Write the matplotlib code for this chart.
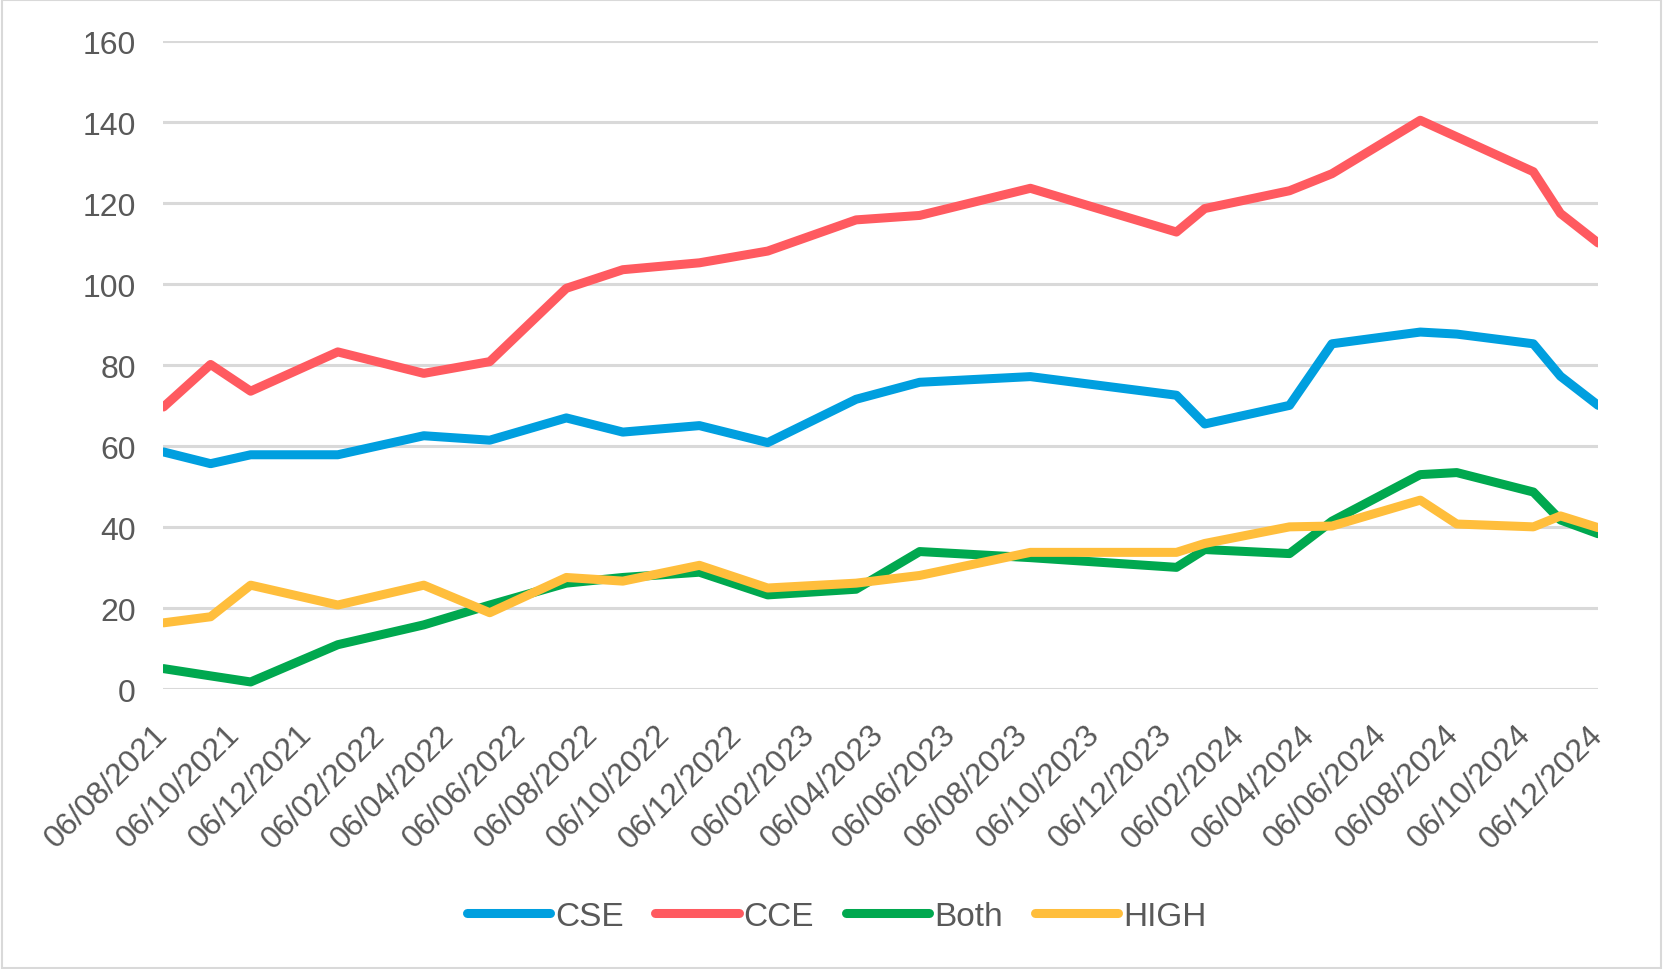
import matplotlib
matplotlib.use("Agg")
import matplotlib.pyplot as plt
import matplotlib.dates as mdates
import matplotlib.patches as patches
import pandas as pd

plt.rcParams['font.family'] = ['Liberation Sans', 'DejaVu Sans']

# data
dates = pd.to_datetime([
    "2021-08-06", "2021-09-15", "2021-10-19", "2022-01-01", "2022-03-15",
    "2022-05-10", "2022-07-14", "2022-08-31", "2022-11-04", "2023-01-01",
    "2023-03-17", "2023-05-10", "2023-08-12", "2023-12-14", "2024-01-07",
    "2024-03-19", "2024-04-24", "2024-07-08", "2024-08-08", "2024-10-12",
    "2024-11-04", "2024-12-06",
])
cse = [58.6, 55.7, 57.9, 57.9, 62.6, 61.5, 67.0, 63.5, 65.1, 60.9, 71.6,
       75.8, 77.2, 72.6, 65.5, 70.1, 85.3, 88.2, 87.7, 85.3, 77.3, 70.1]
cce = [69.7, 80.2, 73.6, 83.3, 78.0, 80.9, 99.0, 103.6, 105.3, 108.2, 115.9,
       117.0, 123.7, 112.9, 118.7, 123.1, 127.3, 140.5, 136.4, 127.8, 117.5, 110.2]
both = [5.1, 3.3, 1.8, 11.0, 15.9, 20.8, 26.2, 27.6, 28.9, 23.3, 24.7,
        34.0, 32.5, 30.1, 34.5, 33.5, 41.5, 53.0, 53.5, 48.7, 41.8, 38.4]
high = [16.4, 17.9, 25.7, 20.8, 25.7, 18.9, 27.6, 26.7, 30.6, 25.0, 26.2,
        28.1, 33.8, 33.8, 36.0, 40.1, 40.3, 46.7, 40.8, 40.1, 42.8, 39.9]

series = [("CSE", cse, "#009FDF"), ("CCE", cce, "#FF5A60"),
          ("Both", both, "#00A84F"), ("HIGH", high, "#FFBE3C")]

text_col = "#595959"
grid_col = "#D9D9D9"

fig = plt.figure(figsize=(16.63, 9.70), dpi=100)
ax = fig.add_axes([0.0983, 0.2884, 0.9610 - 0.0983, 0.9564 - 0.2884])

for name, vals, col in series:
    ax.plot(dates, vals, color=col, lw=6.5, label=name,
            solid_joinstyle='round', solid_capstyle='round')

ax.set_ylim(0, 160)
ax.set_yticks(range(0, 161, 20))
ax.set_xlim(pd.Timestamp("2021-08-06"), pd.Timestamp("2024-12-06"))
ax.xaxis.set_major_locator(mdates.MonthLocator(bymonth=(2, 4, 6, 8, 10, 12), bymonthday=6))
ax.xaxis.set_major_formatter(mdates.DateFormatter('%d/%m/%Y'))

ax.grid(axis='y', color=grid_col, lw=2.2)
ax.set_axisbelow(True)
for s in ax.spines.values():
    s.set_visible(False)

ax.tick_params(axis='y', length=0, pad=20, labelsize=23, labelcolor=text_col)
ax.tick_params(axis='x', length=0, pad=29, labelsize=23, labelcolor=text_col)
for lab in ax.get_xticklabels():
    lab.set_rotation(45)
    lab.set_ha('right')
    lab.set_va('center')
    lab.set_rotation_mode('anchor')

leg = fig.legend(loc='center', bbox_to_anchor=(0.503, 0.054), ncol=4, frameon=False,
                 fontsize=24, handlelength=2.5, handletextpad=0.15, columnspacing=0.95)
for t in leg.get_texts():
    t.set_color(text_col)

# chart border
fig.patches.append(patches.Rectangle((0.001, 0.001), 0.998, 0.998, transform=fig.transFigure,
                                     fill=False, edgecolor=grid_col, lw=1.5))

fig.savefig("out.png", dpi=100)
